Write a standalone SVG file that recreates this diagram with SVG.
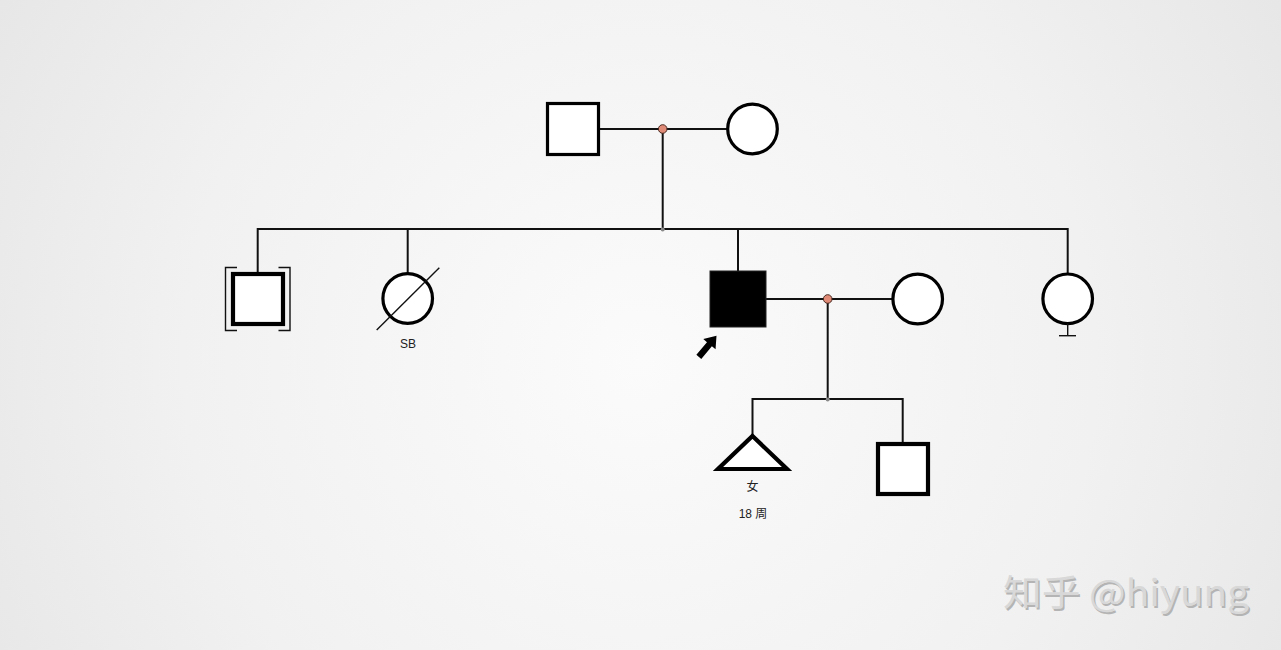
<svg xmlns="http://www.w3.org/2000/svg" width="1281" height="650" viewBox="0 0 1281 650">
<defs>
<radialGradient id="bg" cx="640" cy="360" r="760" gradientUnits="userSpaceOnUse">
<stop offset="0" stop-color="#fbfbfb"/>
<stop offset="0.6" stop-color="#f1f1f1"/>
<stop offset="1" stop-color="#e6e6e6"/>
</radialGradient>
<style>
.sym{fill:#ffffff;stroke:#000;stroke-width:3.2}
.thick{fill:#ffffff;stroke:#000;stroke-width:4.2}
.ln{fill:none;stroke:#111;stroke-width:2}
.thin{fill:none;stroke:#111;stroke-width:1.4}
.mate{fill:#e08a78;stroke:#4a2a20;stroke-width:1}
.jn{fill:#888}
.lbl{font-family:"Liberation Sans","Noto Sans CJK SC",sans-serif;font-size:12px;fill:#222;text-anchor:middle}
.wm{font-family:"Noto Sans CJK SC","Noto Sans",sans-serif;font-size:36px}
</style>
</defs>
<rect width="1281" height="650" fill="url(#bg)"/>

<g id="connectors">
<line class="ln" x1="598" y1="129" x2="727" y2="129"/>
<line class="ln" x1="662.7" y1="129" x2="662.7" y2="229"/>
<line class="ln" x1="257.7" y1="229" x2="1067.7" y2="229"/>
<line class="ln" x1="257.7" y1="228" x2="257.7" y2="273"/>
<line class="ln" x1="407.7" y1="228" x2="407.7" y2="273"/>
<line class="ln" x1="738" y1="228" x2="738" y2="271"/>
<line class="ln" x1="1067.7" y1="228" x2="1067.7" y2="274"/>
<line class="ln" x1="766" y1="299" x2="893" y2="299"/>
<line class="ln" x1="827.7" y1="299" x2="827.7" y2="399"/>
<line class="ln" x1="752.5" y1="399" x2="902.7" y2="399"/>
<line class="ln" x1="752.5" y1="398" x2="752.5" y2="436"/>
<line class="ln" x1="902.7" y1="398" x2="902.7" y2="443"/>
<circle class="mate" cx="662.7" cy="129" r="4.3"/>
<circle class="jn" cx="662.7" cy="229.5" r="2"/>
<circle class="mate" cx="827.7" cy="299" r="4.3"/>
<circle class="jn" cx="827.7" cy="399.5" r="2"/>
</g>

<g id="father"><rect class="sym" x="547.5" y="103.5" width="51" height="51"/></g>
<g id="mother"><circle class="sym" cx="752.5" cy="129" r="24.8"/></g>

<g id="adopted-son">
<rect class="thick" x="233" y="274" width="50" height="50"/>
<path class="thin" d="M237 267.5 H225.5 V330.5 H237 M278.5 267.5 H290 V330.5 H278.5"/>
</g>

<g id="stillbirth">
<circle class="sym" cx="407.7" cy="298.5" r="24.8"/>
<line class="thin" x1="376.7" y1="330" x2="439.3" y2="267.7"/>
<text class="lbl" x="408" y="348">SB</text>
</g>

<g id="proband">
<rect x="710" y="271" width="56" height="56" fill="#000" stroke="#222" stroke-width="1"/>
<g transform="translate(707.5 346.5) rotate(40)">
<polygon points="0,-14 8,-3 3.2,-3 3.2,13.5 -3.2,13.5 -3.2,-3 -8,-3" fill="#000"/>
</g>
</g>

<g id="spouse"><circle class="sym" cx="917.7" cy="299" r="24.8"/></g>

<g id="sister">
<circle class="sym" cx="1067.7" cy="298.8" r="24.8"/>
<line class="thin" x1="1067.7" y1="323.5" x2="1067.7" y2="335.7"/>
<line class="thin" x1="1059" y1="335.7" x2="1076" y2="335.7"/>
</g>

<g id="fetus">
<polygon class="thick" points="752.5,436 787,469 718,469"/>
<text class="lbl" x="752.5" y="491">女</text>
<text class="lbl" x="753" y="518">18 周</text>
</g>

<g id="son"><rect class="thick" x="878" y="444" width="50" height="50"/></g>

<g id="watermark">
<text class="wm" x="1004.5" y="607.5" fill="#b4b4b4" textLength="246" lengthAdjust="spacingAndGlyphs">知乎 @hiyung</text>
<text class="wm" x="1003" y="605.5" fill="#d8d8d8" textLength="246" lengthAdjust="spacingAndGlyphs">知乎 @hiyung</text>
</g>
</svg>
